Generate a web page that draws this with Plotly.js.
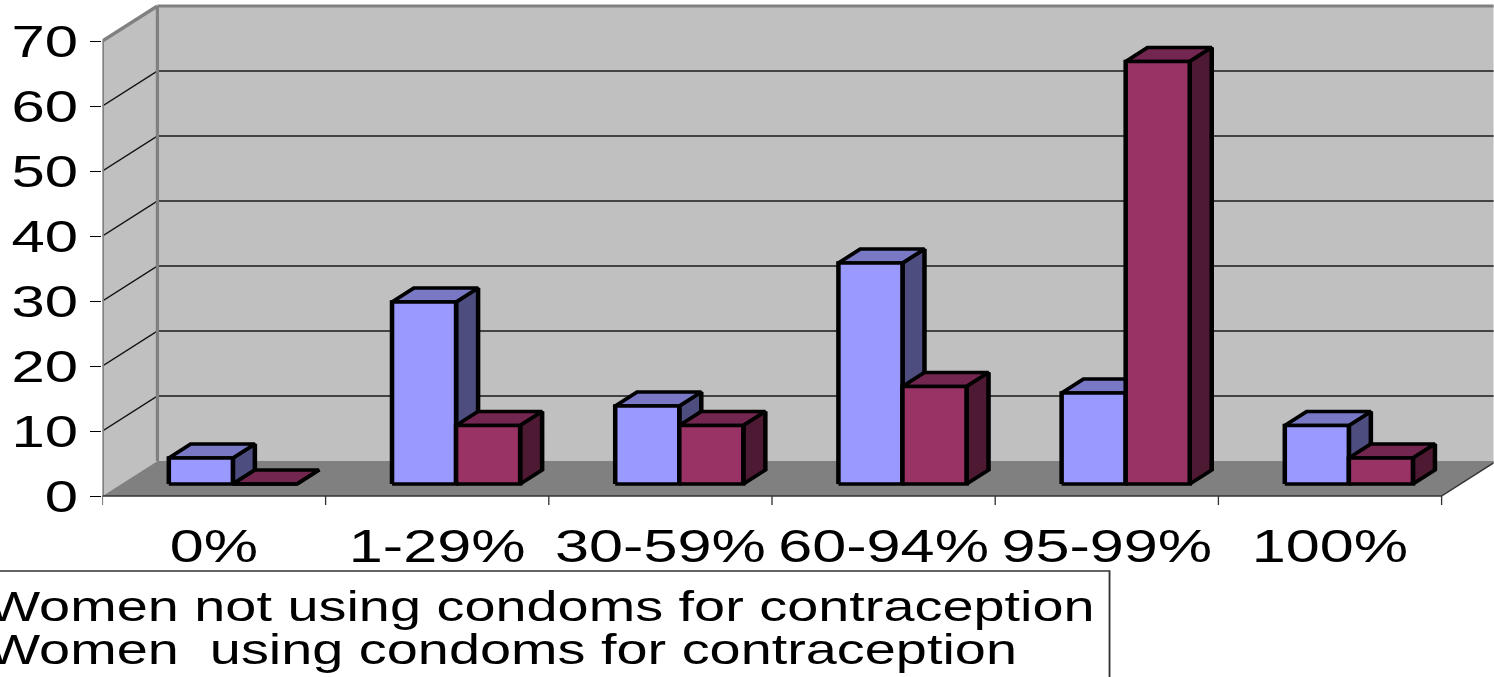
<!DOCTYPE html>
<html>
<head>
<meta charset="utf-8">
<script src="https://cdn.plot.ly/plotly-3.0.1.min.js"></script>
<style>
html,body{margin:0;padding:0;overflow:hidden;background:#fff;width:1494px;height:677px}
#wrap{width:1494px;height:677px;overflow:hidden;position:relative}
#chart{position:absolute;left:0;top:0;transform-origin:0 0}
</style>
</head>
<body>
<div id="wrap"><div id="chart"></div></div>
<script>
// ---------- data ----------
const categories = ['0%', '1-29%', '30-59%', '60-94%', '95-99%', '100%'];
const notUsing = [4, 28, 12, 34, 14, 9];
const using = [0, 9, 9, 15, 65, 4];
const seriesNames = ['Women not using condoms for contraception', 'Women\u00a0 using condoms for contraception'];
const yTickVals = [0, 10, 20, 30, 40, 50, 60, 70];

// ---------- geometry (original picture pixels) ----------
const K = 1.33;                  // horizontal stretch of the original picture
const W = 1494, H = 677;
const frontLeftPx = 103, catPx = 223.17, zeroPx = 496, unitPx = 6.5, plotBottomPx = 515;
const DX = 55 / catPx, DY = 35 / unitPx;      // full depth offset in data units
const xMin = -0.5, xMax = -0.5 + (W - frontLeftPx) / catPx;
const yMin = (zeroPx - plotBottomPx) / unitPx, yMax = zeroPx / unitPx;
const mL = frontLeftPx / K, innerW = W / K, plotW = innerW - mL;
const f0 = 0.343, fd = 0.4, BW = 0.287;
const yTop = yTickVals[yTickVals.length - 1];
const nCat = categories.length;

const chart = document.getElementById('chart');
chart.style.width = innerW + 'px';
chart.style.height = H + 'px';
chart.style.transform = 'scaleX(' + K + ')';

function pxX(p) { return (p / K - mL) / plotW; }
function pxY(p) { return (plotBottomPx - p) / plotBottomPx; }

// ---------- 3D bar faces ----------
function faces(values, side) {
  const fr = {x: [], y: []}, tp = {x: [], y: []}, sd = {x: [], y: []};
  const b = f0 * DY, dx = fd * DX, dy = fd * DY;
  values.forEach((v, i) => {
    const c = i + f0 * DX;
    const xl = side < 0 ? c - BW : c, xr = side < 0 ? c : c + BW;
    const h = b + v;
    fr.x.push(xl, xr, xr, xl, xl, null); fr.y.push(b, b, h, h, b, null);
    tp.x.push(xl, xr, xr + dx, xl + dx, xl, null); tp.y.push(h, h, h + dy, h + dy, h, null);
    sd.x.push(xr, xr + dx, xr + dx, xr, xr, null); sd.y.push(b, b + dy, h + dy, h, b, null);
  });
  return {fr, tp, sd};
}
const blue = faces(notUsing, -1), red = faces(using, 1);
const lineS = {color: '#000', width: 3.4};
function poly(p, color, name, show, legend) {
  return {type: 'scatter', mode: 'lines', x: p.x, y: p.y, fill: 'toself', fillcolor: color,
    line: lineS, name: name, showlegend: show, legend: legend, hoverinfo: 'skip', connectgaps: false};
}
const traces = [
  poly(blue.sd, '#4D4D80', seriesNames[0], false, 'legend'),
  poly(blue.tp, '#7878C4', seriesNames[0], false, 'legend'),
  poly(blue.fr, '#9999FF', seriesNames[0], true, 'legend'),
  poly(red.tp, '#732650', seriesNames[1], false, 'legend2'),
  poly(red.sd, '#4D1933', seriesNames[1], false, 'legend2'),
  poly(red.fr, '#993366', seriesNames[1], true, 'legend2')
];

// ---------- walls, floor, grid ----------
const shapes = [];
const X0 = xMin, XB = xMin + DX, XR = xMax + 1;
shapes.push({type: 'path', layer: 'below', path: `M${X0},0 L${X0},${yTop} L${XB},${yTop + DY} L${XB},${DY} Z`, fillcolor: '#C0C0C0', line: {width: 0}});
shapes.push({type: 'rect', layer: 'below', x0: XB, x1: XR, y0: DY, y1: yTop + DY, fillcolor: '#C0C0C0', line: {width: 0}});
shapes.push({type: 'path', layer: 'below', path: `M${X0},0 L${nCat - 0.5},0 L${nCat - 0.5 + DX},${DY} L${XB},${DY} Z`, fillcolor: '#808080', line: {width: 0}});
yTickVals.slice(1, -1).forEach(v => {
  shapes.push({type: 'line', layer: 'below', x0: XB, x1: XR, y0: v + DY, y1: v + DY, line: {color: '#1a1a1a', width: 1.7}});
  shapes.push({type: 'line', layer: 'below', x0: X0, x1: XB, y0: v, y1: v + DY, line: {color: '#111', width: 1.2}});
});
const grayL = {color: '#808080', width: 3};
shapes.push({type: 'line', layer: 'below', x0: XB, x1: XR, y0: yTop + DY, y1: yTop + DY, line: grayL});
shapes.push({type: 'line', layer: 'below', x0: XB, x1: XB, y0: DY, y1: yTop + DY, line: {color: '#808080', width: 2.4}});
shapes.push({type: 'line', layer: 'below', x0: X0, x1: XB, y0: yTop, y1: yTop + DY, line: grayL});
shapes.push({type: 'line', layer: 'below', x0: X0, x1: X0, y0: 0, y1: yTop, line: {color: '#808080', width: 2.4}});
shapes.push({type: 'line', layer: 'below', x0: X0, x1: nCat - 0.5, y0: 0, y1: 0, line: {color: '#333', width: 1.6}});
shapes.push({type: 'line', layer: 'below', x0: nCat - 0.5, x1: nCat - 0.5 + DX, y0: 0, y1: DY, line: {color: '#333', width: 1.2}});
for (let i = 0; i <= nCat; i++) {
  shapes.push({type: 'line', layer: 'below', x0: i - 0.5, x1: i - 0.5, y0: 0, y1: -9 / unitPx, line: {color: '#333', width: 1}});
}
// legend frame
shapes.push({type: 'rect', xref: 'paper', yref: 'paper', x0: pxX(-40), x1: pxX(1110), y0: pxY(571), y1: pxY(760),
  fillcolor: 'rgba(0,0,0,0)', line: {color: '#333', width: 1.4}});

const font = 'Liberation Sans, Arial, sans-serif';
const layout = {
  width: innerW, height: H,
  margin: {l: mL, r: 0, t: 0, b: H - plotBottomPx, autoexpand: false},
  paper_bgcolor: '#fff', plot_bgcolor: '#fff',
  font: {family: font, color: '#000'},
  xaxis: {range: [xMin, xMax], tickmode: 'array', tickvals: categories.map((c, i) => i), ticktext: categories,
    ticks: '', showgrid: false, zeroline: false, showline: false, tickfont: {size: 46, family: font},
    ticklabelstandoff: 0, fixedrange: true},
  yaxis: {range: [yMin, yMax], tickmode: 'array', tickvals: yTickVals, ticks: 'outside', ticklen: 8.3,
    tickcolor: '#000', tickwidth: 1, showgrid: false, zeroline: false, showline: false,
    tickfont: {size: 45, family: font}, ticklabelstandoff: 0, fixedrange: true},
  shapes: shapes,
  legend: {x: pxX(-12) - 40 / plotW, xanchor: 'left', y: pxY(605), yanchor: 'middle', bgcolor: 'rgba(0,0,0,0)',
    borderwidth: 0, font: {size: 42, family: font, color: '#000'}},
  legend2: {x: pxX(-12) - 40 / plotW, xanchor: 'left', y: pxY(648), yanchor: 'middle', bgcolor: 'rgba(0,0,0,0)',
    borderwidth: 0, font: {size: 42, family: font, color: '#000'}},
  showlegend: true
};
Plotly.newPlot(chart, traces, layout, {displayModeBar: false, staticPlot: true});
</script>
</body>
</html>
